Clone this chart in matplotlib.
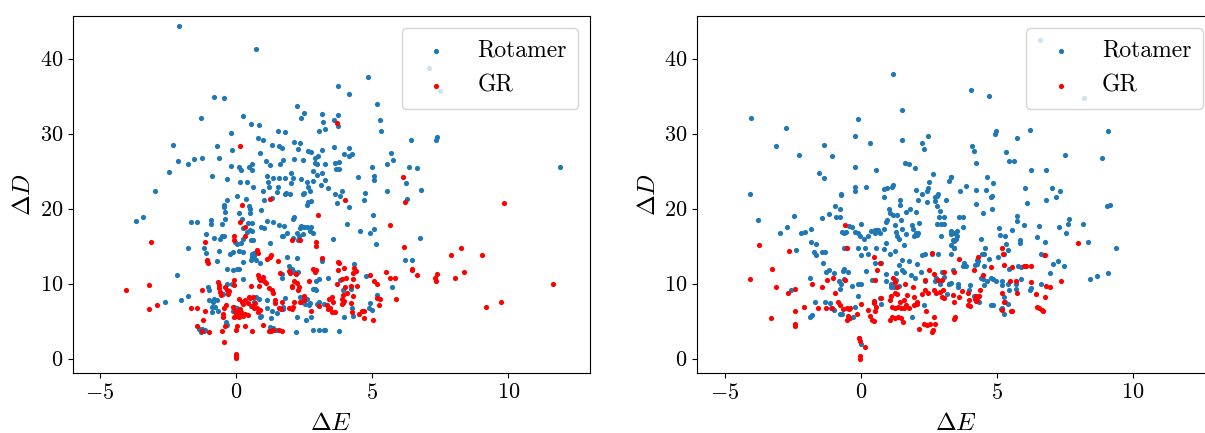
import numpy as np
import matplotlib
matplotlib.use('Agg')
import matplotlib.pyplot as plt

plt.rcParams['font.family'] = 'serif'
plt.rcParams['font.serif'] = ['cmr10']
plt.rcParams['mathtext.fontset'] = 'cm'
plt.rcParams['axes.formatter.use_mathtext'] = True
plt.rcParams['font.size'] = 16

# left panel, Rotamer (dE, dD)
rot_left = [
    (-2.08,44.3),(0.74,41.3),(-0.81,34.9),(-0.43,34.7),(-1.29,32.1),(0.26,32.4),(0.53,31.3),(0.85,31.1),
    (2.23,33.7),(2.5,32.7),(2.4,32.1),(3.14,32.6),(3.2,31.6),(3.28,30.6),(3.06,30.4),(-0.18,30.1),
    (-2.32,28.5),(-0.7,28.4),(-0.16,27.8),(0.82,29.4),(0.97,29.1),(0.86,27.4),(1.33,28.5),(1.53,30.3),
    (1.81,30.2),(1.58,28.3),(1.69,28.1),(2.13,28.9),(2.35,28.7),(2.28,28.0),(2.65,27.7),(2.75,27.5),
    (3.17,27.8),(3.0,27.0),(2.9,26.7),(1.08,26.4),(1.73,26.5),(2.14,26.6),(2.44,26.5),(2.89,26.1),
    (2.97,25.9),(3.28,25.9),(-2.14,26.3),(-1.78,26.0),(-1.54,26.6),(-1.25,26.8),(-0.63,26.7),(1.25,25.8),
    (1.62,26.0),(-0.17,25.7),(0.1,25.6),(0.17,25.1),(0.48,25.5),(0.58,26.0),(0.59,25.1),(-2.45,24.9),
    (-0.88,24.4),(-0.32,24.0),(0.16,23.6),(0.4,23.6),(0.61,22.9),(1.13,24.4),(1.35,24.1),(1.56,24.1),
    (1.8,24.1),(2.0,24.7),(2.08,24.1),(2.38,24.0),(2.61,23.5),(2.84,25.0),(2.98,24.5),(3.16,24.7),
    (3.28,23.8),(3.13,23.2),(2.84,23.7),(1.18,23.5),(1.2,22.9),(2.02,23.4),(2.65,22.9),(-2.97,22.3),
    (1.0,22.3),(1.53,22.9),(1.83,22.1),(2.51,22.1),(2.7,22.4),(3.38,22.7),
    (4.85,37.6),(3.75,36.3),(4.13,35.3),(5.17,34.0),(3.75,32.5),(3.61,31.8),(3.73,31.0),(5.27,31.8),
    (5.32,30.4),(6.43,29.2),(7.38,29.6),(7.33,29.1),(3.61,28.2),(4.13,28.1),(3.95,27.3),(4.15,27.0),
    (4.25,27.3),(5.67,27.4),(5.75,26.5),(5.55,25.9),(3.64,26.1),(3.79,26.2),(3.67,25.3),(3.76,25.3),
    (5.0,25.6),(6.33,25.6),(6.65,25.4),(11.9,25.5),(4.47,24.2),(5.06,24.3),(5.08,23.8),(6.23,23.4),
    (3.9,22.4),(4.75,22.1),(5.53,22.4),(6.78,22.5),(7.08,38.7),(7.5,35.7),
    (-3.68,18.4),(-3.43,18.9),(-1.65,18.2),(-1.42,18.2),(-1.78,14.8),(-2.17,11.2),(-2.03,7.8),(-1.78,8.3),
    (-2.62,7.5),(-0.45,20.5),(-0.45,20.2),(-0.33,21.2),(-0.42,19.6),(-0.41,18.6),(-0.5,17.9),(-0.92,18.5),
    (-0.92,17.9),(-1.1,16.6),(-0.81,16.1),(-0.6,16.0),(-0.5,16.3),(-0.45,16.4),(-1.16,14.8),(-1.09,14.1),
    (-0.64,14.4),(-0.7,13.0),(-0.34,11.9),(-0.1,11.8),(0.02,11.9),(0.12,11.9),(0.05,21.7),(0.36,21.3),
    (0.47,20.4),(0.51,20.0),(0.51,19.4),(0.11,19.4),(0.2,18.6),(0.44,18.1),(0.59,18.1),(0.27,17.4),
    (0.51,17.2),(0.58,17.0),(0.39,16.9),(0.61,15.8),(0.53,15.8),(-0.04,15.5),(0.02,15.3),(0.18,15.4),
    (0.27,16.0),(0.12,14.3),(0.27,14.2),(-0.21,14.0),(-0.12,14.2),(0.58,14.0),(0.65,14.1),(0.59,13.6),
    (0.55,13.2),(0.72,13.1),(0.67,13.7),(0.88,12.8),(0.25,12.9),(0.92,19.8),(1.03,21.1),(1.3,21.4),
    (1.5,22.2),(1.8,21.9),(0.92,17.5),(1.03,17.4),(1.13,18.4),(1.35,18.2),(1.26,15.4),(1.58,17.8),
    (1.77,17.7),(1.7,16.4),(1.74,16.3),(1.86,16.7),(2.13,18.9),(2.1,18.6),(2.33,17.4),(2.4,17.7),
    (2.48,17.5),(1.98,21.9),(2.45,22.0),(2.64,20.9),(2.6,20.5),(2.74,21.0),(2.23,16.7),(2.3,16.4),
    (2.1,16.1),(2.28,15.8),(2.44,16.6),(2.59,17.5),(2.71,17.0),(2.82,16.8),(2.76,17.6),(2.25,13.4),
    (1.95,12.4),(2.14,11.6),(2.28,11.6),(1.68,11.3),(1.7,10.8),(2.07,11.9),(1.87,13.6),(3.17,13.3),
    (3.15,13.0),(3.06,10.6),(2.93,10.4),(2.88,9.3),(2.94,9.1),(2.84,9.3),(3.37,10.8),(2.35,8.2),
    (2.48,7.8),(2.6,8.0),(2.41,7.5),(2.53,7.3),(2.66,7.2),(2.72,7.4),(2.97,7.3),(3.03,7.5),
    (3.21,7.3),(2.23,5.6),(2.55,5.2),(2.75,5.6),(2.83,3.8),(3.06,3.8),(3.21,3.8),(3.28,3.8),
    (2.21,3.6),(1.41,3.8),(1.47,3.8),(1.35,4.1),(1.78,8.1),(1.74,6.9),(1.72,6.6),(1.3,6.4),
    (1.27,5.4),(1.51,6.1),(1.13,7.8),(1.15,6.7),(0.83,8.0),(0.72,8.2),(0.67,7.6),(0.55,7.0),
    (0.27,10.6),(-0.15,9.9),(-0.34,10.0),(-0.47,8.6),(-0.71,7.8),(-0.82,8.0),(-0.83,7.5),(-0.98,7.8),
    (-0.87,6.9),(-0.76,6.9),(-0.65,6.4),(-0.88,6.2),(-1.02,9.5),(-0.99,9.2),(-0.07,6.9),(0.02,6.7),
    (-0.1,6.4),(-0.34,4.5),(-0.36,4.9),(-1.37,3.9),(-1.24,3.9),(-1.18,3.7),(-1.29,3.6),(-1.13,3.8),
    (0.89,5.5),(0.93,5.7),(1.23,4.2),
    (3.63,22.0),(3.8,21.7),(4.7,21.2),(6.26,21.3),(3.7,20.8),(4.15,20.2),(5.04,19.1),(4.08,18.0),
    (4.56,17.0),(4.93,16.7),(5.05,17.3),(5.15,15.3),(3.57,16.0),(6.76,16.1),(6.19,13.2),(6.47,13.2),
    (4.33,12.6),(3.8,10.5),(4.77,11.0),(5.71,9.6),(4.23,9.3),(3.94,9.1),(3.91,7.4),(4.24,6.8),
    (5.18,8.5),(4.9,7.4),(4.88,6.8),(5.0,6.5),(3.96,5.6),(4.29,5.7),(3.77,3.7),
]

# left panel, GR
gr_left = [
    (0.16,28.4),(3.7,31.4),(6.14,24.2),
    (-4.03,9.1),(-3.21,9.8),(-3.14,15.5),(-3.2,6.6),(-2.9,7.2),(-1.64,6.7),(-1.45,6.8),(-1.24,9.2),
    (-1.23,5.1),(-1.43,4.3),(-1.26,3.7),(-1.0,3.6),(-1.14,15.5),(-1.08,13.2),(-1.04,12.7),(-1.07,13.0),
    (-1.15,6.4),(-0.65,10.2),(-0.64,9.8),(-0.64,9.4),(-0.58,8.9),(-0.55,8.5),(-0.47,6.0),(-0.49,5.5),
    (-0.44,6.8),(-0.36,7.1),(-0.39,9.6),(-0.32,9.2),(-0.31,8.6),(-0.26,9.0),(-0.06,10.5),(-0.09,9.8),
    (-0.42,4.3),(-0.53,3.7),(-0.44,2.2),(0.0,0.6),(0.0,0.3),(0.0,0.05),(-0.1,6.9),(-0.05,6.4),
    (-0.02,6.0),(-0.07,5.6),(-0.01,5.7),(0.06,6.3),(0.07,5.9),(0.11,5.6),(0.13,6.6),(0.17,6.2),
    (0.21,5.9),(0.25,5.7),(0.33,6.0),(0.42,5.8),(0.0,3.8),(0.05,4.3),(0.32,4.3),(0.58,3.7),
    (0.09,8.0),(0.23,7.5),(0.27,7.3),(0.34,7.8),(0.43,7.4),(0.51,8.1),(0.65,6.8),(0.76,6.7),
    (0.8,6.2),(0.88,6.5),(0.59,7.0),(0.7,7.4),(0.47,8.2),(0.63,8.2),(0.53,9.7),(0.8,11.2),
    (0.83,10.8),(0.89,10.5),(0.97,10.9),(1.01,10.4),(1.09,10.1),(0.83,9.7),(1.21,9.4),(1.3,9.1),
    (1.36,8.8),(1.43,7.8),(1.44,7.4),(1.65,6.6),(1.58,6.8),(1.7,7.5),(1.2,3.7),(1.29,3.7),
    (1.34,3.8),(1.56,3.8),(1.7,3.7),(1.0,4.5),(-0.06,16.4),(-0.09,15.8),(0.31,17.5),(0.31,16.4),
    (0.16,18.2),(0.2,20.5),(0.77,14.5),(0.82,14.1),(1.15,13.3),(1.23,13.6),(1.27,13.8),(1.54,13.0),
    (1.6,11.4),(1.95,11.7),(1.98,11.4),(1.25,21.3),(2.06,15.8),(2.35,15.8),(2.19,11.3),(2.13,10.4),
    (2.23,10.1),(2.32,9.5),(2.28,9.1),(2.06,9.5),(2.05,9.7),(2.33,7.5),(2.48,8.4),(2.51,7.8),
    (2.1,6.9),(2.07,6.6),(1.95,6.7),(2.13,7.6),(2.67,10.4),(3.01,19.1),(2.94,15.6),(2.94,15.0),
    (2.82,11.9),(2.93,11.8),(2.89,11.6),(2.75,6.3),(3.06,7.0),(3.16,13.4),(3.33,7.2),(3.41,7.9),
    (3.37,6.6),
    (4.01,21.2),(6.2,20.9),(9.83,20.8),(5.64,17.8),(6.15,14.9),(7.89,13.8),(8.26,14.7),(9.04,13.8),
    (3.75,12.9),(3.79,12.8),(3.74,11.8),(3.97,12.1),(4.34,12.1),(4.42,11.7),(4.31,11.4),(5.49,11.6),
    (5.64,10.7),(5.85,10.7),(6.47,12.0),(6.47,11.8),(6.64,11.2),(7.3,10.7),(7.38,11.3),(7.33,10.4),
    (8.05,10.7),(8.36,11.6),(11.65,10.0),(4.9,11.2),(5.06,10.4),(5.17,9.9),(3.87,10.6),(4.04,10.8),
    (4.29,10.6),(4.44,9.7),(3.72,9.9),(3.98,9.5),(4.21,9.7),(4.08,8.8),(3.91,8.5),(4.3,8.4),
    (3.89,8.0),(3.95,7.7),(3.89,7.3),(4.2,7.4),(5.17,8.1),(5.28,8.0),(5.88,8.0),(5.25,7.1),
    (3.52,8.2),(3.55,7.6),(3.46,6.7),(3.52,6.2),(3.62,6.2),(4.25,6.2),(4.52,6.0),(4.63,6.3),
    (4.7,6.4),(4.69,5.4),(5.01,5.1),(9.17,6.9),(9.74,7.6),
]

# right panel, Rotamer
rot_right = [
    (1.17,38.0),(1.53,33.2),(-0.12,31.9),(-0.21,29.7),(-4.03,32.1),(-2.74,30.8),(-3.1,28.3),(-2.25,27.2),
    (-1.35,28.5),(-1.06,27.0),(0.34,28.7),(1.5,29.2),(2.24,28.7),(2.31,28.0),(2.45,29.7),(1.61,26.1),
    (1.76,26.0),(2.0,25.4),(0.57,25.2),(-0.23,25.6),(-1.55,24.8),(-1.35,24.1),(2.64,24.6),(2.5,23.6),
    (3.32,24.2),(3.23,23.7),(-0.21,22.9),(-0.2,22.4),(0.18,22.9),(0.84,22.6),(0.97,22.8),(1.13,22.9),
    (1.18,23.2),(2.02,22.5),(2.48,22.8),(2.42,22.4),(-4.07,22.0),(-0.74,21.9),(2.83,21.9),
    (4.03,35.8),(4.72,35.0),(4.96,30.4),(4.91,29.9),(6.21,30.5),(5.72,29.4),(9.09,30.4),(4.08,28.3),
    (4.17,27.7),(4.22,26.1),(5.34,27.5),(5.46,26.3),(5.62,26.3),(7.49,27.2),(8.86,26.8),(6.25,25.2),
    (6.81,25.2),(3.33,24.2),(4.65,24.2),(4.85,23.4),(3.87,23.0),(3.65,22.3),(4.23,22.5),(4.61,22.5),
    (6.04,22.7),(7.01,22.8),(7.32,22.4),(6.57,42.5),(8.19,34.8),
    (-3.79,18.5),(-2.46,19.0),(-2.98,16.8),(-2.72,17.5),(-2.2,16.7),(-2.05,16.9),(-1.82,17.3),(-1.82,15.6),
    (-1.64,15.3),(-1.72,14.2),(-1.66,13.8),(-2.36,14.5),(-1.44,14.2),(-1.32,14.2),(-1.4,12.7),(-1.42,18.8),
    (-1.18,19.3),(-0.96,20.3),(-0.92,18.9),(-0.74,21.8),(-0.75,20.0),(-0.77,18.9),(-1.27,11.5),(-1.17,11.8),
    (-0.97,11.4),(-1.88,10.8),(-2.57,9.2),(-1.67,7.5),(-1.87,5.5),(-1.78,5.8),(-1.33,7.5),(-1.12,7.4),
    (-1.08,6.8),(-0.97,6.5),(-0.76,9.3),(-0.74,10.0),(-0.81,10.3),(-0.62,10.6),(-0.62,12.0),(-0.64,11.7),
    (-0.48,11.6),(-0.63,14.7),(-0.53,14.7),(-0.69,16.9),(-0.54,16.9),(-0.62,16.7),(-0.42,17.7),(-0.31,17.5),
    (-0.21,16.9),(0.02,17.9),(-0.09,16.7),(-0.02,16.3),(0.11,16.0),(0.28,16.3),(0.39,17.0),(0.52,17.1),
    (0.6,17.1),(0.65,17.2),(0.69,16.8),(0.54,16.7),(-0.1,14.8),(0.16,14.7),(0.28,13.9),(0.0,13.8),
    (0.55,14.8),(0.91,15.4),(0.87,14.6),(1.08,14.0),(1.24,14.3),(0.85,17.3),(0.93,18.2),(0.95,18.5),
    (1.02,20.0),(1.07,19.4),(1.19,19.1),(1.32,19.2),(1.45,20.5),(1.48,18.5),(1.65,19.5),(0.85,21.6),
    (1.45,21.2),(1.27,17.8),(1.29,16.9),(1.32,16.3),(1.4,16.0),(1.52,17.3),(1.67,16.6),(1.58,15.2),
    (1.88,17.8),(1.93,17.3),(2.02,16.8),(2.06,16.5),(1.96,16.4),(2.1,16.8),(2.13,18.1),(1.82,20.0),
    (2.03,19.5),(2.1,21.2),(2.23,22.0),(2.42,20.9),(1.53,13.2),(1.76,13.0),(1.41,12.5),(1.5,11.8),
    (1.57,11.5),(1.28,11.4),(1.29,10.5),(1.12,10.0),(1.1,9.5),(1.23,9.5),(1.41,9.7),(0.92,11.3),
    (0.75,12.7),(0.54,12.8),(0.21,11.7),(0.41,10.5),(0.91,10.4),(0.71,8.1),(0.76,7.3),(-0.11,8.3),
    (0.01,9.9),(-0.33,9.7),(-0.1,9.9),(-0.21,6.9),(-0.3,5.6),(-0.69,5.9),(-0.76,6.0),(-0.41,5.4),
    (-0.05,2.8),(0.01,2.0),(1.86,11.1),(2.0,10.8),(2.35,10.4),(2.72,10.4),(2.77,10.8),(2.99,11.6),
    (3.05,10.9),(3.23,9.9),(2.9,10.0),(2.25,13.8),(2.35,13.9),(2.62,14.0),(2.84,14.0),(2.06,12.6),
    (2.21,11.6),(2.33,7.1),(1.88,5.6),(2.72,21.6),(2.79,21.7),(2.72,21.0),(2.79,20.4),(2.9,19.7),
    (2.88,18.9),(2.93,18.0),(3.06,18.0),(2.79,17.9),(3.07,18.9),(2.94,16.4),(3.14,21.2),(3.31,17.0),
    (3.38,15.8),(3.42,14.7),(3.4,11.8),(3.24,9.9),(3.15,8.6),
    (4.77,21.5),(4.83,21.7),(4.23,20.6),(4.49,19.4),(4.82,19.9),(6.11,20.8),(6.8,21.2),(7.18,21.5),
    (9.03,20.4),(9.14,20.5),(3.6,18.9),(3.76,18.9),(3.75,17.6),(5.73,19.0),(5.72,18.4),(5.99,17.8),
    (5.55,17.2),(5.09,17.4),(5.12,16.5),(5.3,16.4),(6.54,17.7),(6.48,16.2),(6.75,15.5),(5.84,15.8),
    (5.86,15.4),(7.27,17.6),(7.53,16.7),(7.59,18.0),(7.63,18.6),(8.16,18.0),(8.33,15.6),(9.37,14.8),
    (3.54,17.0),(3.44,16.7),(3.54,16.4),(3.3,16.6),(3.49,15.9),(3.42,15.7),(3.32,15.2),(3.44,14.7),
    (3.3,14.0),(4.4,15.9),(4.56,14.8),(4.54,14.0),(4.44,13.9),(4.26,13.2),(4.32,13.0),(4.18,12.5),
    (4.26,12.6),(5.34,15.3),(5.4,14.5),(5.04,13.6),(5.24,14.0),(4.71,13.3),(4.53,12.3),(3.79,12.8),
    (3.75,12.4),(3.86,12.3),(5.46,11.9),(5.78,12.4),(5.88,12.2),(6.62,14.0),(6.74,13.8),(7.06,12.6),
    (7.23,13.0),(7.45,12.4),(6.94,11.4),(5.88,10.6),(5.7,9.9),(5.7,9.3),(5.46,9.2),(5.41,9.9),
    (5.2,10.3),(5.18,9.8),(4.96,10.4),(4.86,10.6),(4.77,10.8),(4.65,10.4),(4.53,9.8),(4.47,10.6),
    (4.4,10.7),(6.25,9.4),(6.2,9.2),(6.62,10.0),(5.26,8.2),(5.29,7.6),(5.39,7.3),(5.2,6.8),
    (5.14,6.6),(5.24,6.0),(4.77,7.1),(4.86,7.1),(4.34,7.6),(4.16,8.4),(4.01,9.8),(3.97,9.2),
    (3.57,10.0),(3.57,9.6),(3.3,10.1),(8.43,10.6),(8.66,11.0),(9.09,11.4),
]

# right panel, GR
gr_right = [
    (-4.07,10.6),(-3.74,15.2),(-3.27,12.0),(-3.3,5.4),(-3.11,9.5),(-2.64,14.3),(-2.66,8.8),(-2.42,9.3),
    (-2.42,6.3),(-2.4,4.6),(-2.4,4.4),(-2.1,6.9),(-1.8,9.9),(-1.56,6.7),(-1.28,6.8),(-1.07,6.7),
    (-1.44,9.6),(-1.23,10.5),(-1.03,10.7),(-0.96,8.7),(-0.85,7.6),(-0.76,7.2),(-0.57,17.8),(-0.5,14.7),
    (-0.57,10.5),(-0.64,6.6),(-0.52,6.7),(-0.43,6.6),(-0.38,6.7),(-0.48,5.7),(-0.52,5.1),(-0.42,5.4),
    (-0.15,6.0),(-0.05,2.8),(-0.04,2.4),(0.16,1.5),(-0.02,0.3),(-0.01,0.0),(0.02,7.3),(0.28,6.5),
    (0.34,5.7),(0.41,5.2),(0.49,5.0),(0.53,6.4),(0.55,6.9),(0.47,7.4),(0.5,7.7),(0.48,13.5),
    (0.69,12.8),(0.58,11.8),(0.54,10.5),(0.73,8.1),(1.08,7.8),(1.06,5.1),(1.16,5.6),(1.26,5.4),
    (1.38,5.5),(1.47,5.4),(1.56,4.9),(1.18,10.7),(1.27,10.2),(1.32,9.6),(1.12,8.3),(1.27,8.7),
    (1.33,8.6),(1.14,6.9),(1.24,6.7),(1.37,6.9),(1.49,6.7),(1.6,6.7),(1.67,7.2),(1.78,6.8),
    (1.97,7.1),(2.06,7.3),(1.45,7.5),(1.57,7.8),(1.7,8.5),(1.61,9.9),(1.9,9.5),(1.97,8.2),
    (2.07,7.6),(2.25,8.6),(2.37,9.2),(2.46,8.8),(2.69,9.2),(2.75,8.7),(2.9,8.9),(3.01,9.1),
    (2.99,8.2),(3.05,8.1),(2.37,10.5),(2.5,11.8),(2.6,14.1),(2.69,11.3),(2.83,10.5),(3.0,10.5),
    (3.05,11.5),(2.39,6.3),(2.68,5.6),(2.33,4.6),(2.44,4.5),(2.54,4.6),(2.72,4.6),(2.66,3.8),
    (2.63,3.5),(2.14,4.0),
    (7.99,15.4),(6.75,13.8),(5.19,14.8),(5.23,13.9),(4.29,13.6),(3.62,13.3),(3.42,11.6),(4.77,12.2),
    (4.16,11.8),(4.47,11.1),(5.24,12.5),(5.57,12.2),(5.99,12.4),(6.08,12.3),(6.26,12.4),(5.47,10.4),
    (5.7,10.3),(6.25,10.2),(5.72,8.8),(5.18,8.7),(6.42,8.6),(6.78,8.2),(6.8,9.7),(6.96,9.6),
    (7.34,10.4),(5.26,7.6),(5.2,6.5),(5.53,6.4),(5.57,6.3),(6.47,6.9),(6.56,6.7),(6.64,6.5),
    (6.69,6.4),(4.38,9.2),(4.22,8.4),(4.18,8.0),(4.28,7.8),(4.35,8.4),(4.23,7.7),(3.97,7.8),
    (3.94,7.2),(4.0,7.0),(3.73,9.0),(3.6,8.2),(3.94,8.8),(3.37,8.5),(3.44,7.5),(3.46,5.6),
    (3.44,5.3),
]

panels = [(rot_left, gr_left), (rot_right, gr_right)]

fig = plt.figure(figsize=(12.05, 4.33), dpi=100)
ax1 = fig.add_axes([0.0603, 0.1386, 0.4295, 0.8245])
ax2 = fig.add_axes([0.5787, 0.1386, 0.4295, 0.8245])

for ax, (rot, gr) in zip([ax1, ax2], panels):
    rot = np.array(rot)
    gr = np.array(gr)
    ax.scatter(rot[:, 0], rot[:, 1], s=14, linewidths=0, color='#1f77b4', label='Rotamer')
    ax.scatter(gr[:, 0], gr[:, 1], s=14, linewidths=0, color='red', label='GR')
    ax.set_xlim(-6.0, 13.0)
    ax.set_ylim(-1.9, 45.7)
    ax.set_xticks([-5, 0, 5, 10])
    ax.set_yticks([0, 10, 20, 30, 40])
    ax.set_xlabel(r'$\Delta E$', fontsize=18, labelpad=7)
    ax.set_ylabel(r'$\Delta D$', fontsize=18, labelpad=3)
    ax.tick_params(labelsize=16)
    ax.legend(loc='upper right', fontsize=17, labelspacing=0.55, borderpad=0.5,
              handlelength=1.9, handletextpad=0.8)

plt.savefig('out.png', dpi=100)
